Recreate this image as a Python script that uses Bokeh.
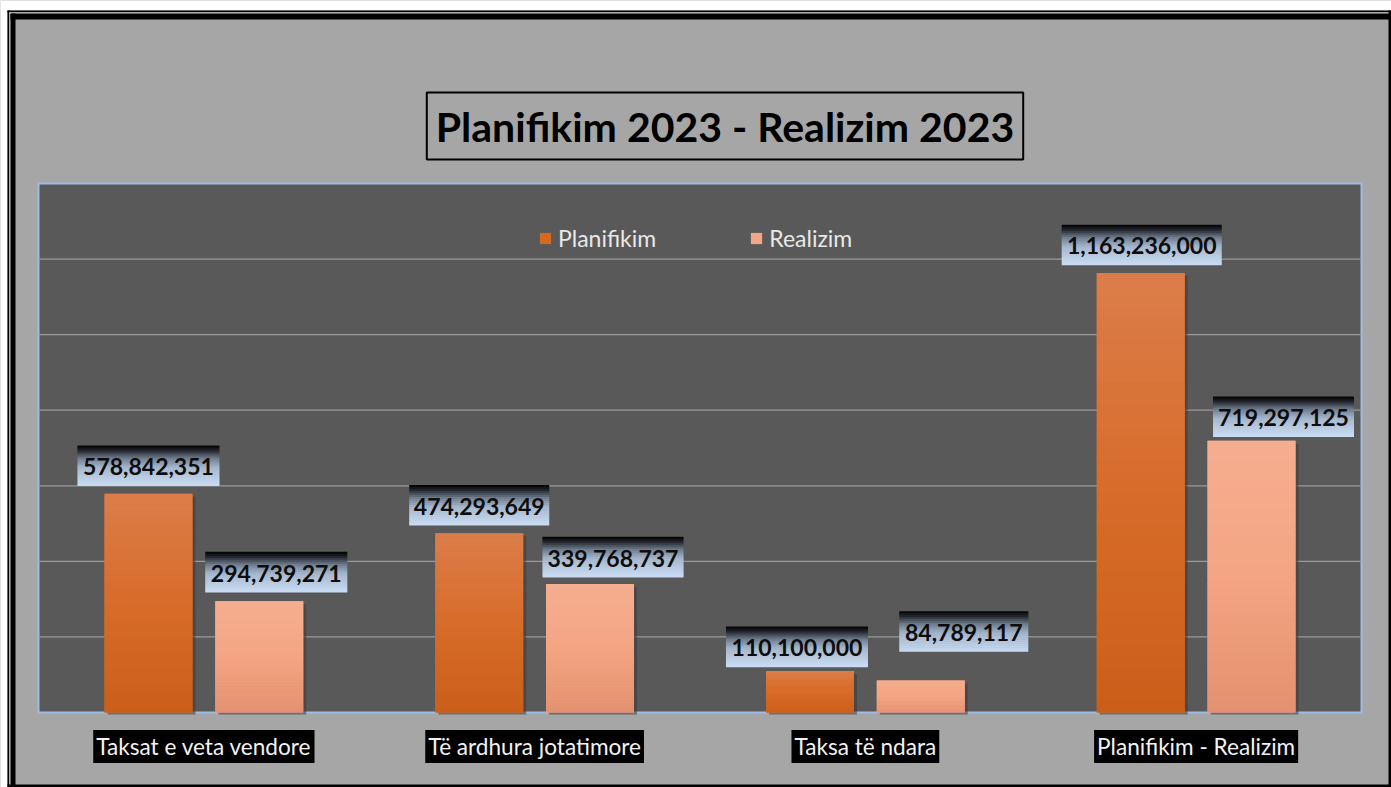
from bokeh.plotting import figure
from bokeh.models import (ColumnDataSource, Range1d, LabelSet, Label,
                          BoxAnnotation, Legend, LegendItem)
from bokeh.core.properties import value
from bokeh.embed import file_html
from bokeh.resources import INLINE

# ---------------- data ----------------
categories = ["Taksat e veta vendore", "Të ardhura jotatimore", "Taksa të ndara", "Planifikim - Realizim"]
planifikim = [578842351, 474293649, 110100000, 1163236000]
realizim = [294739271, 339768737, 84789117, 719297125]
series = ["Planifikim", "Realizim"]
y_ticks = [200_000_000, 400_000_000, 600_000_000, 800_000_000, 1_000_000_000, 1_200_000_000]
y_max = 1_400_000_000
chart_title = "Planifikim 2023 - Realizim 2023"

# ---------------- styles ----------------
FONT = "Lato"
W, H = 1391, 787
# plot-area edges on the canvas (px)
PL, PR, PT, PB = 38, 1361, 183, 712
n_cat = len(categories)
xpp = n_cat / (PR - PL)        # data units per pixel (x)
ypp = y_max / (PB - PT)        # data units per pixel (y)
bar_offset = 0.1675
bar_width = 0.266

plan_stops = [(0.0, "#dc7d4a"), (0.5, "#d76c2a"), (1.0, "#cb5e19")]
real_stops = [(0.0, "#f5ae90"), (0.5, "#f4a583"), (1.0, "#e3906f")]
box_stops = [(0.0, "#000000"), (0.12, "#202329"), (0.32, "#6f7c8e"), (0.55, "#a6b7cd"), (1.0, "#c9dcf3")]
legend_colors = ["#d5691f", "#f4a585"]

# label placement in px: dx from bar centre, dy from bar top to box centre, box width
lab_dx = [[0, 0, -13, 1], [17, 23, 43, 32]]
lab_dy = [[28, 28, 24, 28], [29, 27, 49, 24]]
lab_w = [[142, 140, 142, 160], [142, 141, 129, 141]]
BOX_H = 40
BOX_STRIPS = 20
BAR_STRIPS = 40


def hex2rgb(h):
    h = h.lstrip("#")
    return [int(h[i:i + 2], 16) for i in (0, 2, 4)]


def grad(stops, t):
    for (t0, c0), (t1, c1) in zip(stops[:-1], stops[1:]):
        if t <= t1:
            f = (t - t0) / (t1 - t0) if t1 > t0 else 0.0
            a, b = hex2rgb(c0), hex2rgb(c1)
            return "#%02x%02x%02x" % tuple(int(round(a[i] + (b[i] - a[i]) * f)) for i in range(3))
    return stops[-1][1]


p = figure(width=W, height=H,
           x_range=Range1d(-PL * xpp, n_cat + (W - PR) * xpp),
           y_range=Range1d(-(H - PB) * ypp, y_max + PT * ypp),
           x_axis_type=None, y_axis_type=None, title=None, toolbar_location=None,
           output_backend="svg", min_border=0,
           background_fill_color="#a6a6a6", border_fill_color="#a6a6a6",
           outline_line_color=None)

# plot area
p.quad(left=[0], right=[n_cat], bottom=[0], top=[y_max], fill_color="#595959",
       line_color="#9cbde6", line_width=2)
# horizontal gridlines
p.segment(x0=[0] * len(y_ticks), x1=[n_cat] * len(y_ticks), y0=y_ticks, y1=y_ticks,
          line_color="#9a9a9a", line_width=1.3)

all_vals = [planifikim, realizim]
all_stops = [plan_stops, real_stops]
base_renderers = []
for s, (vals, stops) in enumerate(zip(all_vals, all_stops)):
    sign = -1 if s == 0 else 1
    xs = [i + 0.5 + sign * bar_offset for i in range(n_cat)]
    # shadow
    p.vbar(x=[x + 3 * xpp for x in xs], width=bar_width, bottom=[-2 * ypp] * n_cat,
           top=[v - 3 * ypp for v in vals], fill_color="#3a3a3a", fill_alpha=0.55, line_color=None)
    # base bar (for legend)
    r = p.vbar(x=xs, width=bar_width, bottom=0, top=vals, fill_color=legend_colors[s], line_color=None)
    base_renderers.append(r)
    # gradient strips
    sx, sb, st, sc = [], [], [], []
    for x, v in zip(xs, vals):
        for k in range(BAR_STRIPS):
            sx.append(x)
            sb.append(v * k / BAR_STRIPS)
            st.append(v * (k + 1) / BAR_STRIPS + (v * 0.002 if k < BAR_STRIPS - 1 else 0))
            sc.append(grad(stops, 1 - (k + 0.5) / BAR_STRIPS))
    p.vbar(x=sx, width=bar_width, bottom=sb, top=st, fill_color=sc, line_color=None)

    # label boxes with gradient
    bx, by, bw, bc = [], [], [], []
    for i, (x, v) in enumerate(zip(xs, vals)):
        cx = x + lab_dx[s][i] * xpp
        for j in range(BOX_STRIPS):
            sh = BOX_H / BOX_STRIPS
            off = lab_dy[s][i] + BOX_H / 2 - (j + 0.5) * sh
            bx.append(cx)
            by.append(v + off * ypp)
            bw.append(lab_w[s][i])
            bc.append(grad(box_stops, (j + 0.5) / BOX_STRIPS))
    p.rect(x=bx, y=by, width=bw, height=BOX_H / BOX_STRIPS + 0.6,
           width_units="screen", height_units="screen", fill_color=bc, line_color=None)

    # label text
    src = ColumnDataSource(dict(x=xs, y=vals, text=[f"{v:,}" for v in vals],
                                dx=lab_dx[s], dy=[d - 1 for d in lab_dy[s]]))
    p.add_layout(LabelSet(x="x", y="y", text="text", x_offset="dx", y_offset="dy", source=src,
                          text_align="center", text_baseline="middle",
                          text_font=value(FONT), text_font_style="bold",
                          text_font_size="23px", text_color="#0d0d0d"))

# category labels
for i, c in enumerate(categories):
    p.add_layout(Label(x=i + 0.5, y=0, y_offset=-34, text=c, text_align="center",
                       text_baseline="middle", text_font=FONT, text_font_size="22.6px",
                       text_color="#f2f2f2", background_fill_color="black", padding=3))

# title
p.add_layout(Label(x=724.5, y=H - 125.5, x_units="screen", y_units="screen", text=chart_title,
                   text_align="center", text_baseline="middle", text_font=FONT,
                   text_font_style="bold", text_font_size="41px", text_color="black",
                   border_line_color="black", border_line_width=2, padding=9))

legend = Legend(items=[LegendItem(label=series[k], renderers=[base_renderers[k]]) for k in range(2)],
                location=(538, H - 252), orientation="horizontal", spacing=93, label_standoff=6,
                glyph_width=14, glyph_height=14, label_height=24, padding=0, margin=0,
                border_line_color=None, background_fill_alpha=0,
                label_text_font=FONT, label_text_font_size="23px", label_text_color="#e8e8e8")
p.add_layout(legend)


# outer double border (canvas px; screen units measured from bottom-left)
def border(cx0, cx1, cy0, cy1, color):
    p.add_layout(BoxAnnotation(left=cx0, right=cx1, top=H - cy0, bottom=H - cy1,
                               left_units="screen", right_units="screen",
                               top_units="screen", bottom_units="screen",
                               fill_color=color, fill_alpha=1, line_color=None, level="overlay"))


border(0, W, 0, 10, "white")
border(0, 7, 0, H, "white")
border(7, 9, 10, H, "black")
border(7, W, 10, 12, "black")
border(9, 10, 12, H, "white")
border(9, W, 12, 13, "white")
border(10, 15, 13, H, "black")
border(10, W, 13, 19, "black")
border(W - 3, W, 10, H, "black")
border(7, W, H - 3, H, "black")

open("out.html", "w").write(file_html(p, INLINE))
